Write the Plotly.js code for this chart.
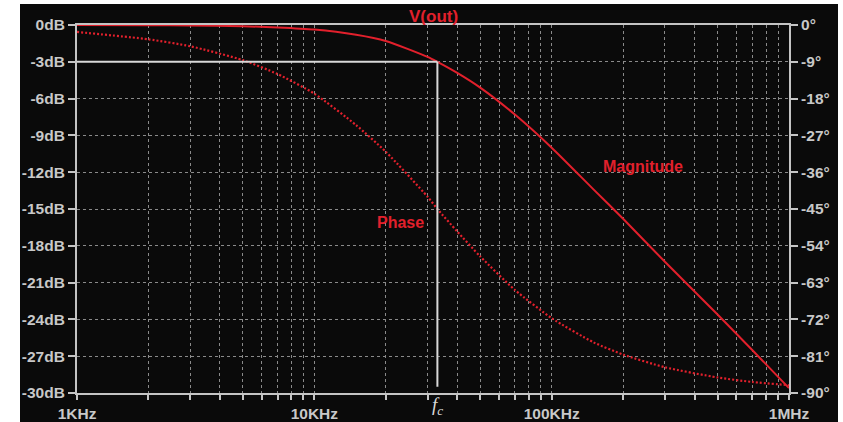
<!DOCTYPE html>
<html>
<head>
<meta charset="utf-8">
<script src="https://cdn.plot.ly/plotly-3.0.1.min.js"></script>
<style>
html,body{margin:0;padding:0;background:#ffffff;width:843px;height:422px;overflow:hidden;}
#chart{position:absolute;left:20px;top:4px;width:818px;height:418px;}
</style>
</head>
<body>
<div id="chart"></div>
<script>
// Frequencies (Hz)
const freqHz = [1000, 2000, 3000, 5000, 7000, 10000, 15000, 20000, 30000, 33000, 40000, 50000, 70000, 100000, 150000, 200000, 300000, 500000, 700000, 1000000];
// Magnitude of V(out) in dB
const magnitudeDb = [0, -0.02, -0.04, -0.1, -0.2, -0.37, -0.8, -1.3, -2.6, -3.0, -3.9, -5.1, -7.3, -10.0, -13.4, -15.8, -19.3, -23.6, -26.5, -29.6];
// Phase of V(out) in degrees
const phaseDeg = [-1.7, -3.5, -5.2, -8.6, -12, -16.8, -24.5, -31, -42, -45, -50.5, -56.6, -64.8, -71.7, -77.6, -80.6, -83.7, -86.2, -87.3, -88.1];

// Cut-off frequency and its level
const cutoffHz = 33000;
const cutoffDb = -3;

// Axis ticks
const freqTickVals = [1000,2000,3000,4000,5000,6000,7000,8000,9000,
  10000,20000,30000,40000,50000,60000,70000,80000,90000,
  100000,200000,300000,400000,500000,600000,700000,800000,900000,1000000];
const freqTickText = ['1KHz','','','','','','','','',
  '10KHz','','','','','','','','',
  '100KHz','','','','','','','','',
  '1MHz'];
const dbTickVals = [0,-3,-6,-9,-12,-15,-18,-21,-24,-27,-30];
const dbTickText = ['0dB','-3dB','-6dB','-9dB','-12dB','-15dB','-18dB','-21dB','-24dB','-27dB','-30dB'];
const degTickVals = [0,-9,-18,-27,-36,-45,-54,-63,-72,-81,-90];
const degTickText = ['0°','-9°','-18°','-27°','-36°','-45°','-54°','-63°','-72°','-81°','-90°'];

const RED = '#e2202c';
const AXIS = '#c4c4c4';
const GRID = '#8a8a8a';
const tickFont = {family:'Liberation Sans, Arial, sans-serif', size:15.5, color:'#c8c8c8', weight:'bold'};

const traces = [
  {x: freqHz, y: magnitudeDb, type:'scatter', mode:'lines', name:'Magnitude',
   line:{color:RED, width:2, shape:'spline', smoothing:0.6}, yaxis:'y'},
  {x: freqHz, y: phaseDeg, type:'scatter', mode:'lines', name:'Phase',
   line:{color:RED, width:2.2, dash:'2px,2px', shape:'spline', smoothing:0.6}, yaxis:'y2'}
];

const layout = {
  width:818, height:418,
  paper_bgcolor:'#0a0a0a', plot_bgcolor:'#0a0a0a',
  margin:{l:57, r:49, t:21, b:29},
  showlegend:false,
  xaxis:{type:'log', range:[3,6], tickmode:'array', tickvals:freqTickVals, ticktext:freqTickText,
    ticks:'outside', ticklen:5, tickwidth:2, tickcolor:AXIS,
    showline:true, linecolor:AXIS, linewidth:2, mirror:true,
    showgrid:true, gridcolor:GRID, gridwidth:1, griddash:'3px,3px',
    tickfont:tickFont, zeroline:false},
  yaxis:{range:[-30,0], tickmode:'array', tickvals:dbTickVals, ticktext:dbTickText,
    ticks:'outside', ticklen:7, tickwidth:2, tickcolor:AXIS,
    showline:true, linecolor:AXIS, linewidth:2,
    showgrid:true, gridcolor:GRID, gridwidth:1, griddash:'3px,3px',
    tickfont:tickFont, zeroline:false},
  yaxis2:{range:[-90,0], overlaying:'y', side:'right', tickmode:'array', tickvals:degTickVals, ticktext:degTickText,
    ticks:'outside', ticklen:7, tickwidth:2, tickcolor:AXIS,
    showline:true, linecolor:AXIS, linewidth:2,
    showgrid:false, tickfont:tickFont, zeroline:false},
  shapes:[
    {type:'line', xref:'x', yref:'y', x0:freqHz[0], x1:cutoffHz, y0:cutoffDb, y1:cutoffDb,
     line:{color:'#d8d8d8', width:2}},
    {type:'line', xref:'x', yref:'y', x0:cutoffHz, x1:cutoffHz, y0:cutoffDb, y1:-29.5,
     line:{color:'#d8d8d8', width:2}}
  ],
  annotations:[
    {text:'V(out)', xref:'paper', yref:'paper', x:0.5, y:1, yanchor:'bottom', yshift:-3, showarrow:false,
     font:{family:'Liberation Sans, Arial, sans-serif', size:17, color:RED, weight:'bold'}},
    {text:'Magnitude', xref:'x', yref:'y', x:Math.log10(243000), y:-11.5, showarrow:false,
     font:{family:'Liberation Sans, Arial, sans-serif', size:16, color:RED, weight:'bold'}},
    {text:'Phase', xref:'x', yref:'y', x:Math.log10(23000), y:-16.1, showarrow:false,
     font:{family:'Liberation Sans, Arial, sans-serif', size:16, color:RED, weight:'bold'}},
    {text:'<i>f<sub>c</sub></i>', xref:'x', yref:'paper', x:Math.log10(cutoffHz), y:0, yanchor:'top', yshift:1, showarrow:false,
     font:{family:'Liberation Serif, DejaVu Serif, serif', size:19, color:'#d8d8d8'}}
  ]
};

Plotly.newPlot('chart', traces, layout, {displayModeBar:false, staticPlot:true});
</script>
</body>
</html>
